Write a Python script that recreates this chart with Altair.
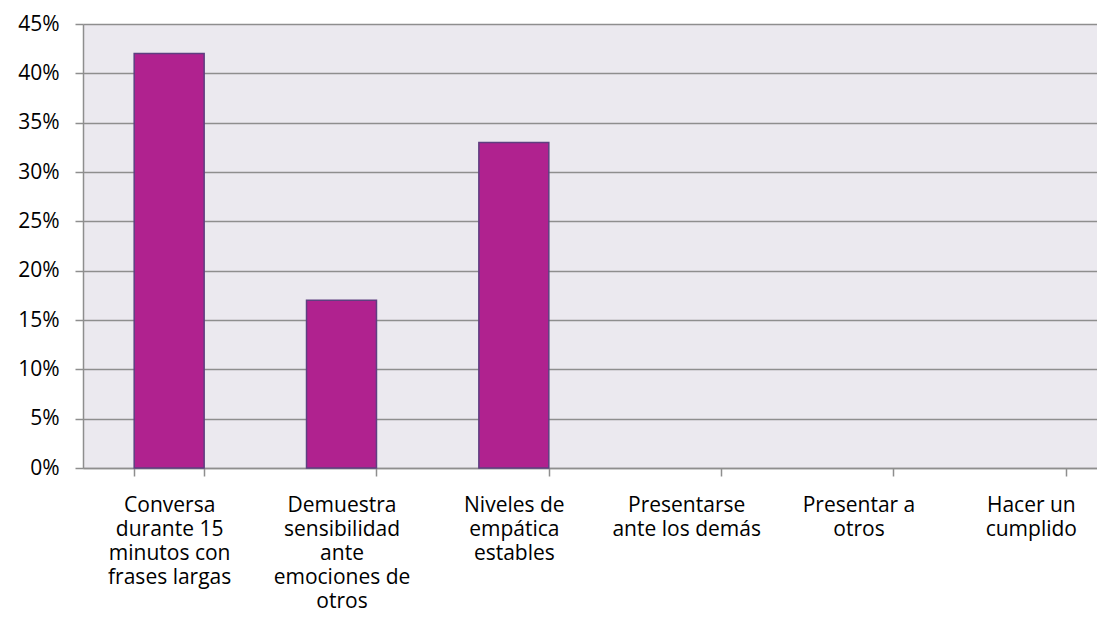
import altair as alt
import pandas as pd

categories = [
    "Conversa|durante 15|minutos con|frases largas",
    "Demuestra|sensibilidad|ante|emociones de|otros",
    "Niveles de|empática|estables",
    "Presentarse|ante los demás",
    "Presentar a|otros",
    "Hacer un|cumplido",
]
values = [0.42, 0.17, 0.33, 0.0, 0.0, 0.0]
y_ticks = [0, 0.05, 0.10, 0.15, 0.20, 0.25, 0.30, 0.35, 0.40, 0.45]

df = pd.DataFrame({"cat": categories, "val": values})

FONT = "Open Sans"
GRID = "#8E8E8E"

chart = (
    alt.Chart(df)
    .transform_filter("datum.val > 0")
    .mark_bar(color="#B0228F", stroke="#5E3F80", strokeWidth=1.5)
    .encode(
        x=alt.X(
            "cat:N",
            sort=categories,
            scale=alt.Scale(domain=categories, range=[0, 1034], paddingInner=0.594, paddingOuter=0.297),
            axis=alt.Axis(
                title=None,
                labelAngle=0,
                labelExpr="split(datum.label, '|')",
                labelFont=FONT,
                labelFontSize=21,
                labelLineHeight=24,
                labelColor="#000000",
                labelBaseline="top",
                labelPadding=18,
                tickBand="extent",
                tickSize=8,
                tickColor=GRID,
                tickWidth=1.5,
                domainColor=GRID,
                domainWidth=1.5,
                grid=False,
            ),
        ),
        y=alt.Y(
            "val:Q",
            scale=alt.Scale(domain=[0, 0.45], nice=False),
            axis=alt.Axis(
                title=None,
                values=y_ticks,
                format=".0%",
                labelFont=FONT,
                labelFontSize=21,
                labelColor="#000000",
                labelPadding=16,
                tickSize=8,
                tickColor=GRID,
                tickWidth=1.5,
                domainColor=GRID,
                domainWidth=1.5,
                grid=True,
                gridColor=GRID,
                gridWidth=1.5,
            ),
        ),
    )
    .properties(
        width=1014,
        height=444,
        autosize=alt.AutoSizeParams(type="none"),
        padding={"left": 75, "top": 16, "right": 0, "bottom": 170},
    )
    .configure_view(fill="#EBE9EF", strokeWidth=0)
)

chart.save("out.html", embed_options={"renderer": "svg", "actions": False})
